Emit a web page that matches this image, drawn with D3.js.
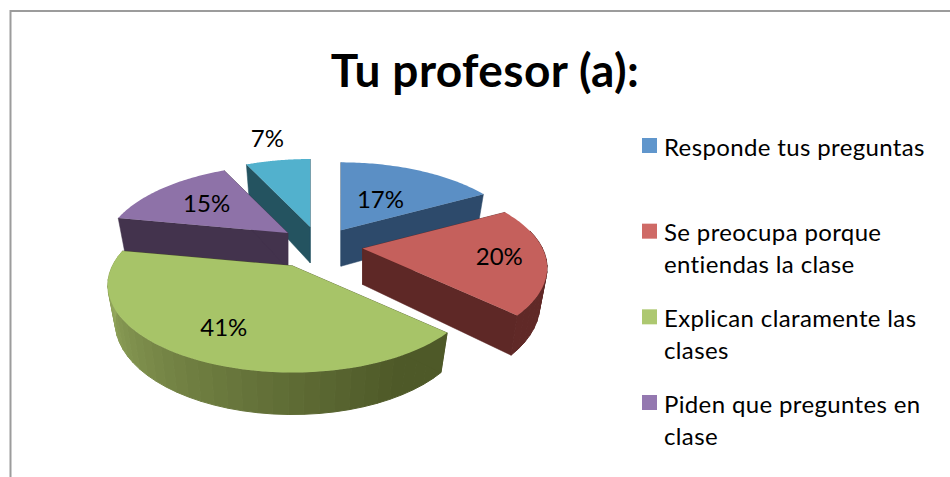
<!DOCTYPE html>
<html>
<head>
<meta charset="utf-8">
<script src="https://cdnjs.cloudflare.com/ajax/libs/d3/7.8.5/d3.min.js"></script>
<style>html,body{margin:0;padding:0;background:#fff}svg{display:block}text{font-family:Lato,Carlito,"Noto Sans",sans-serif;fill:#000}</style>
</head>
<body>
<script>
const titleText = "Tu profesor (a):";
const categories = ["Responde tus preguntas","Se preocupa porque entiendas la clase","Explican claramente las clases","Piden que preguntes en clase","Otros"];
const legendLines = [["Responde tus preguntas"],["Se preocupa porque","entiendas la clase"],["Explican claramente las","clases"],["Piden que preguntes en","clase"]];
const values = [17,20,41,15,7];
const topColors = ["#5b8fc5","#c5605c","#a7c468","#8e72a8","#52b1cd"];
const sideColors = ["#2d4a6b","#5e2826","#4e5928","#43334d","#245360"];
const wallLight = ["#3a5f88","#682d2a","#a0b566","#4d3a59","#2d6577"];
const legendColors = ["#6096cc","#cf6a66","#adc870","#9478b0"];
const explodeX = [0.87,0.93,1.4,0.93,1.1];
const explodeY = [0.87,0.93,1.06,1.01,0.93];
const labelRadius = [0.47,0.75,0.72,0.62,1.43];
const drawOrder = [4,0,3,1,2];

const W=950,H=477;
const svg=d3.select("body").append("svg").attr("width",W).attr("height",H);

// frame
svg.append("path").attr("d",d3.line()([[W,11],[10.5,11],[10.5,H]])).attr("fill","none").attr("stroke","#9c9c9c").attr("stroke-width",2);

// title
svg.append("text").attr("x",485).attr("y",87).attr("text-anchor","middle")
  .attr("font-size",46).attr("letter-spacing",0.4).attr("font-weight",700).text(titleText);

// pie geometry with simple perspective
const C={x:321,y:246}, RX=180, RY=83, P=0.222, DEPTH=36, K=0.96, EX=45, EY=21;
const pie=d3.pie().sort(null).startAngle(0).endAngle(2*Math.PI).value(d=>d);
const arcs=pie(values);
const deg=Math.PI/180;
function apexOf(i){
  const a=arcs[i], m=(a.startAngle+a.endAngle)/2;
  return {x:C.x+Math.sin(m)*EX*explodeX[i], y:C.y-Math.cos(m)*EY*explodeY[i]};
}
function topPt(i,t,r=1){
  const A=apexOf(i), X=Math.sin(t)*r, Z=-Math.cos(t)*r, s=1/(1-P*Z);
  return [A.x+s*RX*X, A.y+s*RY*Z];
}
function botPt(i,t){
  const A=apexOf(i), X=Math.sin(t), Z=-Math.cos(t), s=1/(1-P*Z);
  return [A.x+s*K*RX*X, A.y+s*(K*RY*Z+DEPTH)];
}
const line=d3.line();
const greenT=d3.scalePow().exponent(1.3).domain([152*deg,280*deg]).range([0,1]).clamp(true);

drawOrder.forEach(i=>{
  const a=arcs[i], A=apexOf(i), g=svg.append("g");
  const n=Math.max(2,Math.ceil((a.endAngle-a.startAngle)/(4*deg)));
  const ts=d3.range(n+1).map(k=>a.startAngle+(a.endAngle-a.startAngle)*k/n);
  // outer wall, banded
  const col=d3.interpolateRgb(sideColors[i],wallLight[i]);
  d3.pairs(ts).forEach(([t0,t1])=>{
    if(Math.cos((t0+t1)/2)>0.2) return;
    const c=i===2?col(greenT((t0+t1)/2)):col(0.15);
    g.append("path").attr("d",line([topPt(i,t0),topPt(i,t1),botPt(i,t1),botPt(i,t0)])+"Z")
      .attr("fill",c).attr("stroke",c).attr("stroke-width",1);
  });
  // cut faces
  const B={x:A.x,y:A.y+DEPTH};
  [a.startAngle,a.endAngle].forEach(t=>{
    g.append("path").attr("d",line([[A.x,A.y],topPt(i,t),botPt(i,t),[B.x,B.y]])+"Z")
      .attr("fill",sideColors[i]).attr("stroke",sideColors[i]).attr("stroke-width",0.5);
  });
  // top surface
  const fine=d3.range(0,61).map(k=>a.startAngle+(a.endAngle-a.startAngle)*k/60);
  g.append("path").attr("d",line([[A.x,A.y],...fine.map(t=>topPt(i,t))])+"Z").attr("fill",topColors[i]);
});

// data labels
arcs.forEach((a,i)=>{
  const p=topPt(i,(a.startAngle+a.endAngle)/2,labelRadius[i]);
  svg.append("text").attr("x",p[0]).attr("y",p[1]).attr("dy","0.35em").attr("text-anchor","middle")
    .attr("font-size",24).text(a.value+"%");
});

// legend
const legendY=d3.scaleLinear().domain([0,3]).range([138,395]);
legendLines.forEach((ls,i)=>{
  const y=legendY(i);
  svg.append("rect").attr("x",642).attr("y",y).attr("width",15).attr("height",15).attr("fill",legendColors[i]);
  ls.forEach((t,j)=>{
    svg.append("text").attr("x",664).attr("y",y+17.5+j*32).attr("font-size",24).attr("letter-spacing",0.36).text(t);
  });
});
</script>
</body>
</html>
